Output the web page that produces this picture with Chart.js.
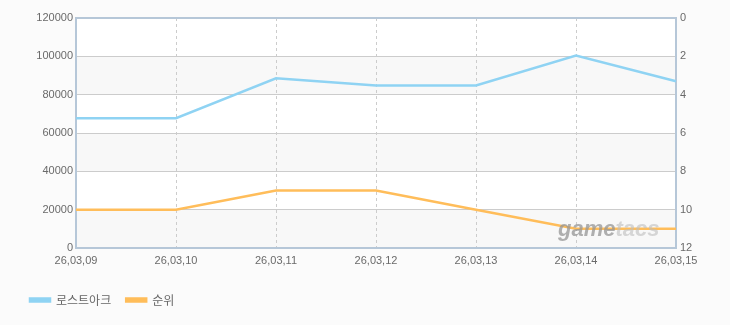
<!DOCTYPE html>
<html>
<head>
<meta charset="utf-8">
<script src="https://cdn.jsdelivr.net/npm/chart.js@4.4.1/dist/chart.umd.min.js"></script>
<style>
  html, body { margin: 0; padding: 0; background: #fbfbfb; }
  #wrap { width: 730px; height: 325px; }
</style>
</head>
<body>
<div id="wrap"><canvas id="chart" width="730" height="325"></canvas></div>
<script>
// data
var labels = ['26,03,09', '26,03,10', '26,03,11', '26,03,12', '26,03,13', '26,03,14', '26,03,15'];
var lostArk = [67700, 67700, 88500, 84800, 84800, 100400, 87000];
var rank = [10, 10, 9, 9, 10, 11, 11];
var leftTicks = [0, 20000, 40000, 60000, 80000, 100000, 120000];
var rightTicks = [0, 2, 4, 6, 8, 10, 12];

var tickFont = { family: 'Liberation Sans, Arial, sans-serif', size: 11 };
var tickColor = '#6a6a6a';
var gridColor = '#cccccc';
var frameColor = '#b6c7d8';

// striped background + frame round the plot area
var framePlugin = {
    id: 'frame',
    beforeDraw: function (chart) {
        var c = chart.ctx, a = chart.chartArea, y = chart.scales.y;
        c.save();
        c.fillStyle = '#ffffff';
        c.fillRect(a.left, a.top, a.right - a.left, a.bottom - a.top);
        for (var i = 0; i < leftTicks.length - 1; i++) {
            if (i % 2 == 0) continue;
            var top = y.getPixelForValue(leftTicks[leftTicks.length - 1 - i]);
            var bot = y.getPixelForValue(leftTicks[leftTicks.length - 2 - i]);
            c.fillStyle = '#f8f8f8';
            c.fillRect(a.left, top, a.right - a.left, bot - top);
        }
        c.restore();
    },
    beforeDatasetsDraw: function (chart) {
        var c = chart.ctx, a = chart.chartArea;
        c.save();
        c.strokeStyle = frameColor;
        c.lineWidth = 2;
        c.strokeRect(a.left, a.top, a.right - a.left, a.bottom - a.top);
        c.restore();
    },
    afterDatasetsDraw: function (chart) {
        var c = chart.ctx, a = chart.chartArea;
        c.save();
        c.font = 'italic bold 22px Liberation Sans, Arial, sans-serif';
        c.textBaseline = 'alphabetic';
        c.fillStyle = 'rgba(150,150,150,0.75)';
        c.fillText('game', a.right - 118, a.bottom - 12);
        var w = c.measureText('game').width;
        c.fillStyle = 'rgba(190,190,190,0.6)';
        c.fillText('tacs', a.right - 118 + w, a.bottom - 12);
        c.restore();
    }
};

var ctx = document.getElementById('chart').getContext('2d');
var chart = new Chart(ctx, {
    type: 'line',
    data: {
        labels: labels,
        datasets: [{
            label: '로스트아크',
            data: lostArk,
            yAxisID: 'y',
            borderColor: '#8fd3f3',
            backgroundColor: '#8fd3f3',
            borderWidth: 2.5,
            pointRadius: 0,
            tension: 0
        }, {
            label: '순위',
            data: rank,
            yAxisID: 'y2',
            borderColor: '#ffbd5a',
            backgroundColor: '#ffbd5a',
            borderWidth: 2.5,
            pointRadius: 0,
            tension: 0
        }]
    },
    options: {
        responsive: false,
        animation: false,
        layout: { padding: { left: 15, right: 0, top: 18, bottom: 9 } },
        plugins: {
            tooltip: { enabled: false },
            legend: {
                position: 'bottom',
                align: 'start',
                labels: {
                    boxWidth: 20,
                    boxHeight: 3,
                    padding: 15,
                    color: '#666666',
                    font: { family: 'Noto Sans CJK KR, sans-serif', size: 12 }
                }
            }
        },
        scales: {
            x: {
                grid: { color: gridColor, drawTicks: false },
                border: { display: false, dash: [3, 3] },
                ticks: { color: tickColor, font: tickFont, padding: 6, maxRotation: 0 },
                afterFit: function (s) { s.height = 31; }
            },
            y: {
                position: 'left',
                min: 0, max: 120000,
                afterBuildTicks: function (s) { s.ticks = leftTicks.map(function (v) { return { value: v }; }); },
                grid: { color: gridColor, drawTicks: false },
                border: { display: false },
                ticks: { color: tickColor, font: tickFont, padding: 3, callback: function (v) { return String(v); } },
                afterFit: function (s) { s.width = 61; }
            },
            y2: {
                position: 'right',
                reverse: true,
                min: 0, max: 12,
                afterBuildTicks: function (s) { s.ticks = rightTicks.map(function (v) { return { value: v }; }); },
                grid: { display: false, drawTicks: false },
                border: { display: false },
                ticks: { color: tickColor, font: tickFont, padding: 4, callback: function (v) { return String(v); } },
                afterFit: function (s) { s.width = 54; }
            }
        }
    },
    plugins: [framePlugin]
});
</script>
</body>
</html>
